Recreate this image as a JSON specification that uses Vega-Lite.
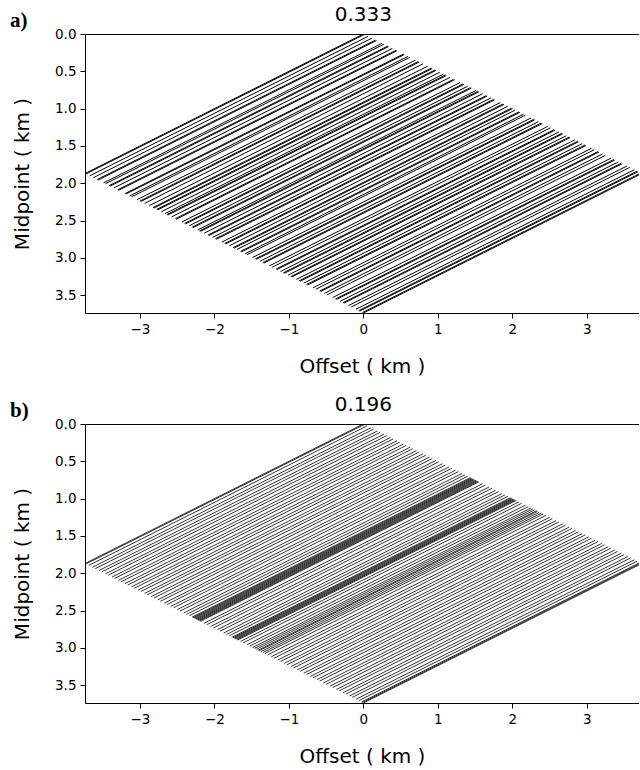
{
  "$schema": "https://vega.github.io/schema/vega-lite/v6.json",
  "padding": {"left": 10, "top": 5, "right": 0, "bottom": 0},
  "background": "white",
  "config": {
    "font": "DejaVu Sans",
    "view": {"stroke": null},
    "axis": {"domainColor": "black", "domainWidth": 1, "tickColor": "black", "tickWidth": 1, "tickSize": 5, "labelFont": "DejaVu Sans", "labelFontSize": 13.5, "labelColor": "black", "titleFont": "DejaVu Sans", "titleFontSize": 20, "titleFontWeight": "normal", "titleColor": "black", "grid": false, "labelPadding": 4, "labelOverlap": false}
  },
  "spacing": 18,
  "datasets": {
    "a": [
      {"h0":0,"m0":0,"h1":-3.7375,"m1":1.86875},
      {"h0":0.0125,"m0":0.00625,"h1":-3.725,"m1":1.875},
      {"h0":0.0625,"m0":0.03125,"h1":-3.675,"m1":1.9},
      {"h0":0.1125,"m0":0.05625,"h1":-3.625,"m1":1.925},
      {"h0":0.1625,"m0":0.08125,"h1":-3.575,"m1":1.95},
      {"h0":0.175,"m0":0.0875,"h1":-3.5625,"m1":1.95625},
      {"h0":0.25,"m0":0.125,"h1":-3.4875,"m1":1.99375},
      {"h0":0.275,"m0":0.1375,"h1":-3.4625,"m1":2.00625},
      {"h0":0.325,"m0":0.1625,"h1":-3.4125,"m1":2.03125},
      {"h0":0.3375,"m0":0.16875,"h1":-3.4,"m1":2.0375},
      {"h0":0.3875,"m0":0.19375,"h1":-3.35,"m1":2.0625},
      {"h0":0.4375,"m0":0.21875,"h1":-3.3,"m1":2.0875},
      {"h0":0.45,"m0":0.225,"h1":-3.2875,"m1":2.09375},
      {"h0":0.5375,"m0":0.26875,"h1":-3.2,"m1":2.1375},
      {"h0":0.55,"m0":0.275,"h1":-3.1875,"m1":2.14375},
      {"h0":0.6,"m0":0.3,"h1":-3.1375,"m1":2.16875},
      {"h0":0.625,"m0":0.3125,"h1":-3.1125,"m1":2.18125},
      {"h0":0.7,"m0":0.35,"h1":-3.0375,"m1":2.21875},
      {"h0":0.7375,"m0":0.36875,"h1":-3,"m1":2.2375},
      {"h0":0.75,"m0":0.375,"h1":-2.9875,"m1":2.24375},
      {"h0":0.8,"m0":0.4,"h1":-2.9375,"m1":2.26875},
      {"h0":0.8625,"m0":0.43125,"h1":-2.875,"m1":2.3},
      {"h0":0.9125,"m0":0.45625,"h1":-2.825,"m1":2.325},
      {"h0":0.925,"m0":0.4625,"h1":-2.8125,"m1":2.33125},
      {"h0":0.9625,"m0":0.48125,"h1":-2.775,"m1":2.35},
      {"h0":0.975,"m0":0.4875,"h1":-2.7625,"m1":2.35625},
      {"h0":1.025,"m0":0.5125,"h1":-2.7125,"m1":2.38125},
      {"h0":1.075,"m0":0.5375,"h1":-2.6625,"m1":2.40625},
      {"h0":1.1,"m0":0.55,"h1":-2.6375,"m1":2.41875},
      {"h0":1.1125,"m0":0.55625,"h1":-2.625,"m1":2.425},
      {"h0":1.1625,"m0":0.58125,"h1":-2.575,"m1":2.45},
      {"h0":1.2125,"m0":0.60625,"h1":-2.525,"m1":2.475},
      {"h0":1.225,"m0":0.6125,"h1":-2.5125,"m1":2.48125},
      {"h0":1.3,"m0":0.65,"h1":-2.4375,"m1":2.51875},
      {"h0":1.3375,"m0":0.66875,"h1":-2.4,"m1":2.5375},
      {"h0":1.35,"m0":0.675,"h1":-2.3875,"m1":2.54375},
      {"h0":1.4,"m0":0.7,"h1":-2.3375,"m1":2.56875},
      {"h0":1.4375,"m0":0.71875,"h1":-2.3,"m1":2.5875},
      {"h0":1.45,"m0":0.725,"h1":-2.2875,"m1":2.59375},
      {"h0":1.5125,"m0":0.75625,"h1":-2.225,"m1":2.625},
      {"h0":1.5375,"m0":0.76875,"h1":-2.2,"m1":2.6375},
      {"h0":1.55,"m0":0.775,"h1":-2.1875,"m1":2.64375},
      {"h0":1.6,"m0":0.8,"h1":-2.1375,"m1":2.66875},
      {"h0":1.65,"m0":0.825,"h1":-2.0875,"m1":2.69375},
      {"h0":1.6625,"m0":0.83125,"h1":-2.075,"m1":2.7},
      {"h0":1.7125,"m0":0.85625,"h1":-2.025,"m1":2.725},
      {"h0":1.75,"m0":0.875,"h1":-1.9875,"m1":2.74375},
      {"h0":1.7625,"m0":0.88125,"h1":-1.975,"m1":2.75},
      {"h0":1.8375,"m0":0.91875,"h1":-1.9,"m1":2.7875},
      {"h0":1.875,"m0":0.9375,"h1":-1.8625,"m1":2.80625},
      {"h0":1.8875,"m0":0.94375,"h1":-1.85,"m1":2.8125},
      {"h0":1.9375,"m0":0.96875,"h1":-1.8,"m1":2.8375},
      {"h0":1.9875,"m0":0.99375,"h1":-1.75,"m1":2.8625},
      {"h0":2,"m0":1,"h1":-1.7375,"m1":2.86875},
      {"h0":2.0375,"m0":1.01875,"h1":-1.7,"m1":2.8875},
      {"h0":2.0875,"m0":1.04375,"h1":-1.65,"m1":2.9125},
      {"h0":2.1,"m0":1.05,"h1":-1.6375,"m1":2.91875},
      {"h0":2.15,"m0":1.075,"h1":-1.5875,"m1":2.94375},
      {"h0":2.175,"m0":1.0875,"h1":-1.5625,"m1":2.95625},
      {"h0":2.25,"m0":1.125,"h1":-1.4875,"m1":2.99375},
      {"h0":2.2875,"m0":1.14375,"h1":-1.45,"m1":3.0125},
      {"h0":2.3,"m0":1.15,"h1":-1.4375,"m1":3.01875},
      {"h0":2.35,"m0":1.175,"h1":-1.3875,"m1":3.04375},
      {"h0":2.3875,"m0":1.19375,"h1":-1.35,"m1":3.0625},
      {"h0":2.4,"m0":1.2,"h1":-1.3375,"m1":3.06875},
      {"h0":2.475,"m0":1.2375,"h1":-1.2625,"m1":3.10625},
      {"h0":2.5125,"m0":1.25625,"h1":-1.225,"m1":3.125},
      {"h0":2.5625,"m0":1.28125,"h1":-1.175,"m1":3.15},
      {"h0":2.575,"m0":1.2875,"h1":-1.1625,"m1":3.15625},
      {"h0":2.625,"m0":1.3125,"h1":-1.1125,"m1":3.18125},
      {"h0":2.6625,"m0":1.33125,"h1":-1.075,"m1":3.2},
      {"h0":2.675,"m0":1.3375,"h1":-1.0625,"m1":3.20625},
      {"h0":2.725,"m0":1.3625,"h1":-1.0125,"m1":3.23125},
      {"h0":2.7625,"m0":1.38125,"h1":-0.975,"m1":3.25},
      {"h0":2.775,"m0":1.3875,"h1":-0.9625,"m1":3.25625},
      {"h0":2.8375,"m0":1.41875,"h1":-0.9,"m1":3.2875},
      {"h0":2.875,"m0":1.4375,"h1":-0.8625,"m1":3.30625},
      {"h0":2.8875,"m0":1.44375,"h1":-0.85,"m1":3.3125},
      {"h0":2.9375,"m0":1.46875,"h1":-0.8,"m1":3.3375},
      {"h0":2.975,"m0":1.4875,"h1":-0.7625,"m1":3.35625},
      {"h0":2.9875,"m0":1.49375,"h1":-0.75,"m1":3.3625},
      {"h0":3.0625,"m0":1.53125,"h1":-0.675,"m1":3.4},
      {"h0":3.1,"m0":1.55,"h1":-0.6375,"m1":3.41875},
      {"h0":3.15,"m0":1.575,"h1":-0.5875,"m1":3.44375},
      {"h0":3.1625,"m0":1.58125,"h1":-0.575,"m1":3.45},
      {"h0":3.2125,"m0":1.60625,"h1":-0.525,"m1":3.475},
      {"h0":3.25,"m0":1.625,"h1":-0.4875,"m1":3.49375},
      {"h0":3.325,"m0":1.6625,"h1":-0.4125,"m1":3.53125},
      {"h0":3.3625,"m0":1.68125,"h1":-0.375,"m1":3.55},
      {"h0":3.375,"m0":1.6875,"h1":-0.3625,"m1":3.55625},
      {"h0":3.425,"m0":1.7125,"h1":-0.3125,"m1":3.58125},
      {"h0":3.4625,"m0":1.73125,"h1":-0.275,"m1":3.6},
      {"h0":3.475,"m0":1.7375,"h1":-0.2625,"m1":3.60625},
      {"h0":3.5375,"m0":1.76875,"h1":-0.2,"m1":3.6375},
      {"h0":3.575,"m0":1.7875,"h1":-0.1625,"m1":3.65625},
      {"h0":3.6375,"m0":1.81875,"h1":-0.1,"m1":3.6875},
      {"h0":3.675,"m0":1.8375,"h1":-0.0625,"m1":3.70625},
      {"h0":3.6875,"m0":1.84375,"h1":-0.05,"m1":3.7125},
      {"h0":3.725,"m0":1.8625,"h1":-0.0125,"m1":3.73125},
      {"h0":3.7375,"m0":1.86875,"h1":0,"m1":3.7375}
    ],
    "b": [
      {"h0":0,"m0":0,"h1":-3.7375,"m1":1.86875},
      {"h0":0.0125,"m0":0.00625,"h1":-3.725,"m1":1.875},
      {"h0":0.05,"m0":0.025,"h1":-3.6875,"m1":1.89375},
      {"h0":0.1,"m0":0.05,"h1":-3.6375,"m1":1.91875},
      {"h0":0.1375,"m0":0.06875,"h1":-3.6,"m1":1.9375},
      {"h0":0.1875,"m0":0.09375,"h1":-3.55,"m1":1.9625},
      {"h0":0.225,"m0":0.1125,"h1":-3.5125,"m1":1.98125},
      {"h0":0.275,"m0":0.1375,"h1":-3.4625,"m1":2.00625},
      {"h0":0.3125,"m0":0.15625,"h1":-3.425,"m1":2.025},
      {"h0":0.3625,"m0":0.18125,"h1":-3.375,"m1":2.05},
      {"h0":0.4,"m0":0.2,"h1":-3.3375,"m1":2.06875},
      {"h0":0.45,"m0":0.225,"h1":-3.2875,"m1":2.09375},
      {"h0":0.4875,"m0":0.24375,"h1":-3.25,"m1":2.1125},
      {"h0":0.5375,"m0":0.26875,"h1":-3.2,"m1":2.1375},
      {"h0":0.575,"m0":0.2875,"h1":-3.1625,"m1":2.15625},
      {"h0":0.625,"m0":0.3125,"h1":-3.1125,"m1":2.18125},
      {"h0":0.6625,"m0":0.33125,"h1":-3.075,"m1":2.2},
      {"h0":0.7125,"m0":0.35625,"h1":-3.025,"m1":2.225},
      {"h0":0.75,"m0":0.375,"h1":-2.9875,"m1":2.24375},
      {"h0":0.8,"m0":0.4,"h1":-2.9375,"m1":2.26875},
      {"h0":0.8375,"m0":0.41875,"h1":-2.9,"m1":2.2875},
      {"h0":0.8875,"m0":0.44375,"h1":-2.85,"m1":2.3125},
      {"h0":0.925,"m0":0.4625,"h1":-2.8125,"m1":2.33125},
      {"h0":0.975,"m0":0.4875,"h1":-2.7625,"m1":2.35625},
      {"h0":1.0125,"m0":0.50625,"h1":-2.725,"m1":2.375},
      {"h0":1.0625,"m0":0.53125,"h1":-2.675,"m1":2.4},
      {"h0":1.1,"m0":0.55,"h1":-2.6375,"m1":2.41875},
      {"h0":1.15,"m0":0.575,"h1":-2.5875,"m1":2.44375},
      {"h0":1.1875,"m0":0.59375,"h1":-2.55,"m1":2.4625},
      {"h0":1.2375,"m0":0.61875,"h1":-2.5,"m1":2.4875},
      {"h0":1.275,"m0":0.6375,"h1":-2.4625,"m1":2.50625},
      {"h0":1.325,"m0":0.6625,"h1":-2.4125,"m1":2.53125},
      {"h0":1.3625,"m0":0.68125,"h1":-2.375,"m1":2.55},
      {"h0":1.4,"m0":0.7,"h1":-2.3375,"m1":2.56875},
      {"h0":1.4375,"m0":0.71875,"h1":-2.3,"m1":2.5875},
      {"h0":1.45,"m0":0.725,"h1":-2.2875,"m1":2.59375},
      {"h0":1.4625,"m0":0.73125,"h1":-2.275,"m1":2.6},
      {"h0":1.475,"m0":0.7375,"h1":-2.2625,"m1":2.60625},
      {"h0":1.4875,"m0":0.74375,"h1":-2.25,"m1":2.6125},
      {"h0":1.5,"m0":0.75,"h1":-2.2375,"m1":2.61875},
      {"h0":1.5125,"m0":0.75625,"h1":-2.225,"m1":2.625},
      {"h0":1.525,"m0":0.7625,"h1":-2.2125,"m1":2.63125},
      {"h0":1.5375,"m0":0.76875,"h1":-2.2,"m1":2.6375},
      {"h0":1.55,"m0":0.775,"h1":-2.1875,"m1":2.64375},
      {"h0":1.6,"m0":0.8,"h1":-2.1375,"m1":2.66875},
      {"h0":1.6375,"m0":0.81875,"h1":-2.1,"m1":2.6875},
      {"h0":1.6875,"m0":0.84375,"h1":-2.05,"m1":2.7125},
      {"h0":1.725,"m0":0.8625,"h1":-2.0125,"m1":2.73125},
      {"h0":1.775,"m0":0.8875,"h1":-1.9625,"m1":2.75625},
      {"h0":1.8125,"m0":0.90625,"h1":-1.925,"m1":2.775},
      {"h0":1.8625,"m0":0.93125,"h1":-1.875,"m1":2.8},
      {"h0":1.9,"m0":0.95,"h1":-1.8375,"m1":2.81875},
      {"h0":1.9375,"m0":0.96875,"h1":-1.8,"m1":2.8375},
      {"h0":1.975,"m0":0.9875,"h1":-1.7625,"m1":2.85625},
      {"h0":1.9875,"m0":0.99375,"h1":-1.75,"m1":2.8625},
      {"h0":2,"m0":1,"h1":-1.7375,"m1":2.86875},
      {"h0":2.0125,"m0":1.00625,"h1":-1.725,"m1":2.875},
      {"h0":2.025,"m0":1.0125,"h1":-1.7125,"m1":2.88125},
      {"h0":2.0375,"m0":1.01875,"h1":-1.7,"m1":2.8875},
      {"h0":2.05,"m0":1.025,"h1":-1.6875,"m1":2.89375},
      {"h0":2.0875,"m0":1.04375,"h1":-1.65,"m1":2.9125},
      {"h0":2.125,"m0":1.0625,"h1":-1.6125,"m1":2.93125},
      {"h0":2.175,"m0":1.0875,"h1":-1.5625,"m1":2.95625},
      {"h0":2.2125,"m0":1.10625,"h1":-1.525,"m1":2.975},
      {"h0":2.25,"m0":1.125,"h1":-1.4875,"m1":2.99375},
      {"h0":2.275,"m0":1.1375,"h1":-1.4625,"m1":3.00625},
      {"h0":2.3,"m0":1.15,"h1":-1.4375,"m1":3.01875},
      {"h0":2.325,"m0":1.1625,"h1":-1.4125,"m1":3.03125},
      {"h0":2.3375,"m0":1.16875,"h1":-1.4,"m1":3.0375},
      {"h0":2.3625,"m0":1.18125,"h1":-1.375,"m1":3.05},
      {"h0":2.3875,"m0":1.19375,"h1":-1.35,"m1":3.0625},
      {"h0":2.4125,"m0":1.20625,"h1":-1.325,"m1":3.075},
      {"h0":2.45,"m0":1.225,"h1":-1.2875,"m1":3.09375},
      {"h0":2.5,"m0":1.25,"h1":-1.2375,"m1":3.11875},
      {"h0":2.5375,"m0":1.26875,"h1":-1.2,"m1":3.1375},
      {"h0":2.5875,"m0":1.29375,"h1":-1.15,"m1":3.1625},
      {"h0":2.625,"m0":1.3125,"h1":-1.1125,"m1":3.18125},
      {"h0":2.675,"m0":1.3375,"h1":-1.0625,"m1":3.20625},
      {"h0":2.7125,"m0":1.35625,"h1":-1.025,"m1":3.225},
      {"h0":2.7625,"m0":1.38125,"h1":-0.975,"m1":3.25},
      {"h0":2.8,"m0":1.4,"h1":-0.9375,"m1":3.26875},
      {"h0":2.85,"m0":1.425,"h1":-0.8875,"m1":3.29375},
      {"h0":2.8875,"m0":1.44375,"h1":-0.85,"m1":3.3125},
      {"h0":2.9375,"m0":1.46875,"h1":-0.8,"m1":3.3375},
      {"h0":2.975,"m0":1.4875,"h1":-0.7625,"m1":3.35625},
      {"h0":3.025,"m0":1.5125,"h1":-0.7125,"m1":3.38125},
      {"h0":3.0625,"m0":1.53125,"h1":-0.675,"m1":3.4},
      {"h0":3.1125,"m0":1.55625,"h1":-0.625,"m1":3.425},
      {"h0":3.15,"m0":1.575,"h1":-0.5875,"m1":3.44375},
      {"h0":3.2,"m0":1.6,"h1":-0.5375,"m1":3.46875},
      {"h0":3.2375,"m0":1.61875,"h1":-0.5,"m1":3.4875},
      {"h0":3.2875,"m0":1.64375,"h1":-0.45,"m1":3.5125},
      {"h0":3.325,"m0":1.6625,"h1":-0.4125,"m1":3.53125},
      {"h0":3.375,"m0":1.6875,"h1":-0.3625,"m1":3.55625},
      {"h0":3.4125,"m0":1.70625,"h1":-0.325,"m1":3.575},
      {"h0":3.4625,"m0":1.73125,"h1":-0.275,"m1":3.6},
      {"h0":3.5,"m0":1.75,"h1":-0.2375,"m1":3.61875},
      {"h0":3.55,"m0":1.775,"h1":-0.1875,"m1":3.64375},
      {"h0":3.5875,"m0":1.79375,"h1":-0.15,"m1":3.6625},
      {"h0":3.6375,"m0":1.81875,"h1":-0.1,"m1":3.6875},
      {"h0":3.675,"m0":1.8375,"h1":-0.0625,"m1":3.70625},
      {"h0":3.7125,"m0":1.85625,"h1":-0.025,"m1":3.725},
      {"h0":3.725,"m0":1.8625,"h1":-0.0125,"m1":3.73125},
      {"h0":3.7375,"m0":1.86875,"h1":0,"m1":3.7375}
    ]
  },
  "vconcat": [
    {
      "width": 554,
      "height": 279,
      "resolve": {"axis": {"x": "independent", "y": "independent"}},
      "layer": [
        {
          "data": {"name": "a"},
          "mark": {"type": "rule", "color": "black", "strokeWidth": 1, "clip": true},
          "encoding": {
            "x": {"field": "h0", "type": "quantitative", "scale": {"domain": [-3.7375, 3.7], "nice": false, "zero": false}, "axis": {"values": [-3, -2, -1, 0, 1, 2, 3], "format": "d", "title": "Offset ( km )", "titlePadding": 21}},
            "x2": {"field": "h1"},
            "y": {"field": "m0", "type": "quantitative", "scale": {"domain": [0, 3.7375], "nice": false, "zero": false, "reverse": true}, "axis": {"values": [0, 0.5, 1, 1.5, 2, 2.5, 3, 3.5], "format": ".1f", "labelOverlap": false, "title": "Midpoint ( km )", "titlePadding": 22}},
            "y2": {"field": "m1"}
          }
        },
        {
          "data": {"values": [{}]},
          "mark": {"type": "text", "text": "a)", "font": "Liberation Serif", "fontSize": 21, "fontWeight": "bold", "align": "left", "baseline": "middle", "color": "black"},
          "encoding": {
            "x": {"datum": -4.744, "type": "quantitative", "axis": {"orient": "top", "labels": false, "ticks": false, "title": null, "domain": true, "minExtent": 0, "maxExtent": 0, "labelPadding": 0, "tickSize": 0}},
            "y": {"datum": -0.18, "type": "quantitative", "axis": null}
          }
        },
        {
          "data": {"values": [{}]},
          "mark": {"type": "text", "text": "0.333", "font": "DejaVu Sans", "fontSize": 20, "align": "center", "baseline": "middle", "color": "black"},
          "encoding": {
            "x": {"datum": 0, "type": "quantitative", "axis": null},
            "y": {"datum": -0.248, "type": "quantitative", "axis": null}
          }
        }
      ]
    },
    {
      "width": 554,
      "height": 279,
      "resolve": {"axis": {"x": "independent", "y": "independent"}},
      "layer": [
        {
          "data": {"name": "b"},
          "mark": {"type": "rule", "color": "black", "strokeWidth": 0.8, "clip": true},
          "encoding": {
            "x": {"field": "h0", "type": "quantitative", "scale": {"domain": [-3.7375, 3.7], "nice": false, "zero": false}, "axis": {"values": [-3, -2, -1, 0, 1, 2, 3], "format": "d", "title": "Offset ( km )", "titlePadding": 21}},
            "x2": {"field": "h1"},
            "y": {"field": "m0", "type": "quantitative", "scale": {"domain": [0, 3.7375], "nice": false, "zero": false, "reverse": true}, "axis": {"values": [0, 0.5, 1, 1.5, 2, 2.5, 3, 3.5], "format": ".1f", "labelOverlap": false, "title": "Midpoint ( km )", "titlePadding": 22}},
            "y2": {"field": "m1"}
          }
        },
        {
          "data": {"values": [{}]},
          "mark": {"type": "text", "text": "b)", "font": "Liberation Serif", "fontSize": 21, "fontWeight": "bold", "align": "left", "baseline": "middle", "color": "black"},
          "encoding": {
            "x": {"datum": -4.744, "type": "quantitative", "axis": {"orient": "top", "labels": false, "ticks": false, "title": null, "domain": true, "minExtent": 0, "maxExtent": 0, "labelPadding": 0, "tickSize": 0}},
            "y": {"datum": -0.18, "type": "quantitative", "axis": null}
          }
        },
        {
          "data": {"values": [{}]},
          "mark": {"type": "text", "text": "0.196", "font": "DejaVu Sans", "fontSize": 20, "align": "center", "baseline": "middle", "color": "black"},
          "encoding": {
            "x": {"datum": 0, "type": "quantitative", "axis": null},
            "y": {"datum": -0.248, "type": "quantitative", "axis": null}
          }
        }
      ]
    }
  ]
}
